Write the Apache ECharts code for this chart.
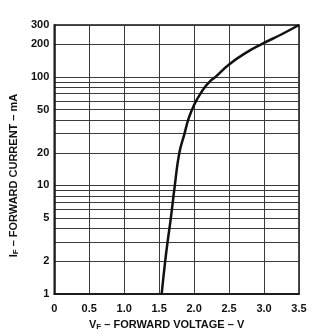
<!DOCTYPE html>
<html><head><meta charset="utf-8">
<script src="https://cdn.jsdelivr.net/npm/echarts@6/dist/echarts.min.js"></script>
<style>html,body{margin:0;padding:0;background:#fff}#c{width:336px;height:336px}</style>
</head><body><div id="c"></div>
<script>
// Forward voltage (V) and forward current (mA)
const voltage = [1.536, 1.586, 1.62, 1.667, 1.724, 1.789, 1.863, 1.914, 1.971, 2.029, 2.091, 2.153, 2.22, 2.306, 2.50, 2.739, 3.00, 3.239, 3.50];
const current = [1, 2, 3, 5, 10, 20, 30, 40, 50, 60, 70, 80, 90, 100, 130, 166, 205, 244, 300];
const yLabelValues = [1, 2, 5, 10, 20, 50, 100, 200, 300];
const yGridValues = [1, 2, 3, 4, 5, 6, 7, 8, 9, 10, 20, 30, 40, 50, 60, 70, 80, 90, 100, 200, 300];

const font = '"Liberation Sans", Arial, sans-serif';
const chart = echarts.init(document.getElementById('c'), null, {renderer: 'canvas'});
chart.setOption({
  animation: false,
  backgroundColor: '#fff',
  grid: {left: 53, top: 25, width: 246, height: 273, show: true, borderColor: '#111', borderWidth: 1.5},
  xAxis: {
    type: 'value', min: 0, max: 3.5, interval: 0.5,
    name: '{m|V}{s|F}{m| – FORWARD VOLTAGE – V}',
    nameLocation: 'middle', nameGap: 21,
    nameTextStyle: {padding: [0, 20, 0, 0], rich: {
      m: {fontFamily: font, fontWeight: 'bold', fontSize: 11, color: '#111'},
      s: {fontFamily: font, fontWeight: 'bold', fontSize: 8, color: '#111', padding: [5, 0, 0, 0]}
    }},
    axisLine: {lineStyle: {color: '#111', width: 1.5}},
    axisTick: {show: false},
    axisLabel: {fontFamily: font, fontWeight: 'bold', fontSize: 11, color: '#111', margin: 9,
      formatter: v => (v === 0 ? '0' : v.toFixed(1))},
    splitLine: {show: true, lineStyle: {color: '#3a3a3a', width: 1}}
  },
  yAxis: {
    type: 'log', logBase: 10, min: 1, max: 300,
    name: '{m|I}{s|F}{m| – FORWARD CURRENT – mA}',
    nameLocation: 'middle', nameGap: 26,
    nameTextStyle: {padding: [0, 32, 0, 0], rich: {
      m: {fontFamily: font, fontWeight: 'bold', fontSize: 11, color: '#111'},
      s: {fontFamily: font, fontWeight: 'bold', fontSize: 8, color: '#111', padding: [5, 0, 0, 0]}
    }},
    axisLine: {lineStyle: {color: '#111', width: 1.5}},
    axisTick: {show: false, customValues: yGridValues},
    axisLabel: {fontFamily: font, fontWeight: 'bold', fontSize: 11, color: '#111', margin: 5,
      customValues: yLabelValues},
    splitLine: {show: true, lineStyle: {color: '#3a3a3a', width: 1}},
    minorSplitLine: {show: false}
  },
  series: [{
    type: 'line',
    data: voltage.map((v, i) => [v, current[i]]),
    showSymbol: false, smooth: 0.5,
    lineStyle: {color: '#111', width: 2.5},
    z: 5
  }]
});
</script></body></html>
